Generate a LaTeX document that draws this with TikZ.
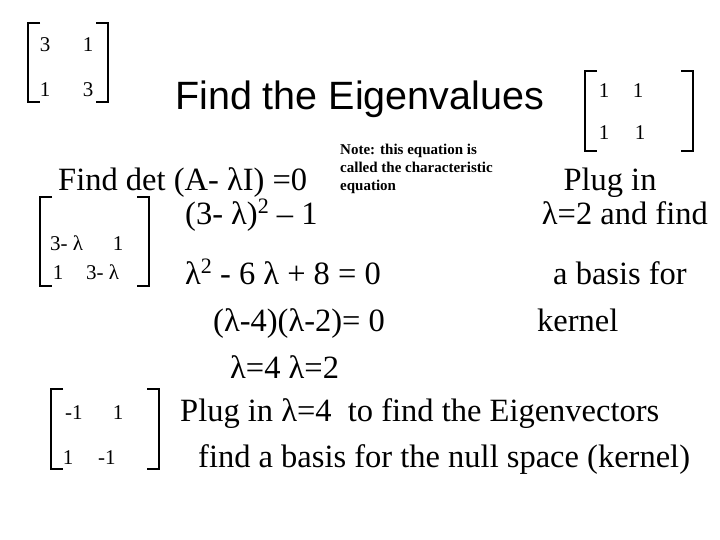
\documentclass[tikz,border=0pt]{standalone}
\usepackage{fontspec}
\setmainfont{Liberation Serif}
\newfontfamily\arial{Liberation Sans}
\begin{document}
\begin{tikzpicture}[x=1pt,y=-1pt,
  t/.style={inner sep=0pt,anchor=base west,font=\fontsize{32.5}{36}\selectfont},
  m/.style={inner sep=0pt,anchor=base,font=\fontsize{21}{24}\selectfont},
  br/.style={line width=1.6pt}]
\useasboundingbox (0,0) rectangle (720,540);
\newcommand\lbr[3]{\draw[br] (#1+12,#2) -- (#1,#2) -- (#1,#3) -- (#1+12,#3);}
\newcommand\rbr[3]{\draw[br] (#1-12,#2) -- (#1,#2) -- (#1,#3) -- (#1-12,#3);}
% top-left matrix
\lbr{28}{23}{102}\rbr{108}{23}{102}
\node[m] (a11) at (45,52) {3}; \node[m] (a12) at (88,52) {1};
\node[m] (a21) at (45,97) {1}; \node[m] (a22) at (88,97) {3};
\node[inner sep=0pt,anchor=base west,font=\arial\fontsize{39.5}{44}\selectfont] (title) at (175,110) {Find the Eigenvalues};
% top-right matrix
\lbr{585}{71}{151}\rbr{693}{71}{151}
\node[m] (b11) at (604,98) {1}; \node[m] (b12) at (638,98) {1};
\node[m] (b21) at (604,140) {1}; \node[m] (b22) at (640,140) {1};
\node[t] (det) at (58,191) {Find det (A- λI) =0};
\node[inner sep=0pt,anchor=north west,align=left,font=\bfseries\fontsize{15}{18}\selectfont] (note) at (340,144) {Note: this equation is\\called the characteristic\\equation};
\node[t,anchor=base] (plug) at (610,191) {Plug in};
\node[t,anchor=base east] (l2) at (708,225) {λ=2 and find};
\node[t,anchor=base] (basis) at (620,284) {a basis for};
\node[t] (kern) at (537,331) {kernel};
\node[t] (eq1) at (185,225) {(3- λ)\raisebox{11pt}{\fontsize{22}{24}\selectfont 2} – 1};
% middle matrix
\lbr{40}{197}{286}\rbr{149}{197}{286}
\node[m,anchor=base west] (c11) at (50,251) {3- λ}; \node[m] (c12) at (118,251) {1};
\node[m] (c21) at (58,279) {1}; \node[m,anchor=base west] (c22) at (86,279) {3- λ};
\node[t] (eq2) at (185,284) {λ\raisebox{11pt}{\fontsize{22}{24}\selectfont 2} - 6 λ + 8 = 0};
\node[t] (eq3) at (213,331) {(λ-4)(λ-2)= 0};
\node[t] (eq4) at (230,378) {λ=4 λ=2};
% bottom matrix
\lbr{51}{389}{469}\rbr{159}{389}{469}
\node[m,anchor=base west] (d11) at (65,419) {-1}; \node[m] (d12) at (118,419) {1};
\node[m] (d21) at (68,464) {1}; \node[m,anchor=base west] (d22) at (98,464) {-1};
\node[t] (p4) at (180,421) {Plug in λ=4\ \ to find the Eigenvectors};
\node[t] (fb) at (198,467) {find a basis for the null space (kernel)};
\end{tikzpicture}
\end{document}
